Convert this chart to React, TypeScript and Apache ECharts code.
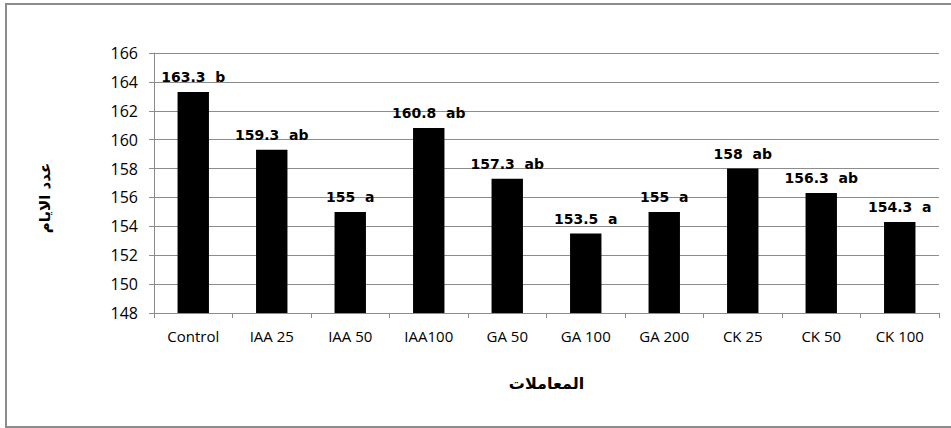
import React, { useEffect, useRef } from "react";
import * as echarts from "echarts";

const categories = ["Control", "IAA 25", "IAA 50", "IAA100", "GA 50", "GA 100", "GA 200", "CK 25", "CK 50", "CK 100"];
const values = [163.3, 159.3, 155, 160.8, 157.3, 153.5, 155, 158, 156.3, 154.3];
const letters = ["b", "ab", "a", "ab", "ab", "a", "a", "ab", "ab", "a"];
const yTicks = { min: 148, max: 166, interval: 2 };
const yTitle = "عدد الايام";
const xTitle = "المعاملات";

export default function App() {
  const ref = useRef<HTMLDivElement>(null);
  useEffect(() => {
    const chart = echarts.init(ref.current!, null, { renderer: "svg" });
    chart.setOption({
      animation: false,
      backgroundColor: "#ffffff",
      graphic: [
        {
          type: "rect",
          shape: { x: 6, y: 4, width: 960, height: 423 },
          style: { fill: "none", stroke: "#8c8c8c", lineWidth: 2 },
          silent: true,
        },
        {
          type: "text",
          x: 45,
          y: 198,
          rotation: Math.PI / 2,
          style: {
            text: yTitle,
            fill: "#000",
            font: "bold 15px 'DejaVu Sans'",
            align: "center",
            verticalAlign: "middle",
          },
          silent: true,
        },
      ],
      grid: { left: 154, top: 53, right: 12, bottom: 115 },
      xAxis: {
        type: "category",
        data: categories,
        axisLine: { lineStyle: { color: "#8c8c8c", width: 1 } },
        axisTick: { show: true, alignWithLabel: false, length: 5, lineStyle: { color: "#8c8c8c" } },
        axisLabel: { color: "#000", fontFamily: "Open Sans", fontSize: 15, margin: 15, interval: 0 },
        name: xTitle,
        nameLocation: "middle",
        nameGap: 62,
        nameTextStyle: { color: "#000", fontFamily: "DejaVu Sans", fontWeight: "bold", fontSize: 16 },
      },
      yAxis: {
        type: "value",
        min: yTicks.min,
        max: yTicks.max,
        interval: yTicks.interval,
        axisLine: { show: true, lineStyle: { color: "#8c8c8c", width: 1 } },
        axisTick: { show: true, length: 5, lineStyle: { color: "#8c8c8c" } },
        splitLine: { show: true, lineStyle: { color: "#8c8c8c", width: 1 } },
        axisLabel: { color: "#000", fontFamily: "Open Sans", fontSize: 16, margin: 16 },
      },
      series: [
        {
          type: "bar",
          data: values,
          barWidth: "40%",
          itemStyle: { color: "#000" },
          label: {
            show: true,
            position: "top",
            distance: 8,
            color: "#000",
            fontFamily: "DejaVu Sans",
            fontWeight: "bold",
            fontSize: 14,
            formatter: (p: any) => `${p.value}  ${letters[p.dataIndex]}`,
          },
        },
      ],
    });
    return () => chart.dispose();
  }, []);
  return (
    <div
      ref={ref}
      style={{ position: "fixed", left: 0, top: 0, width: 951, height: 428 }}
    />
  );
}
